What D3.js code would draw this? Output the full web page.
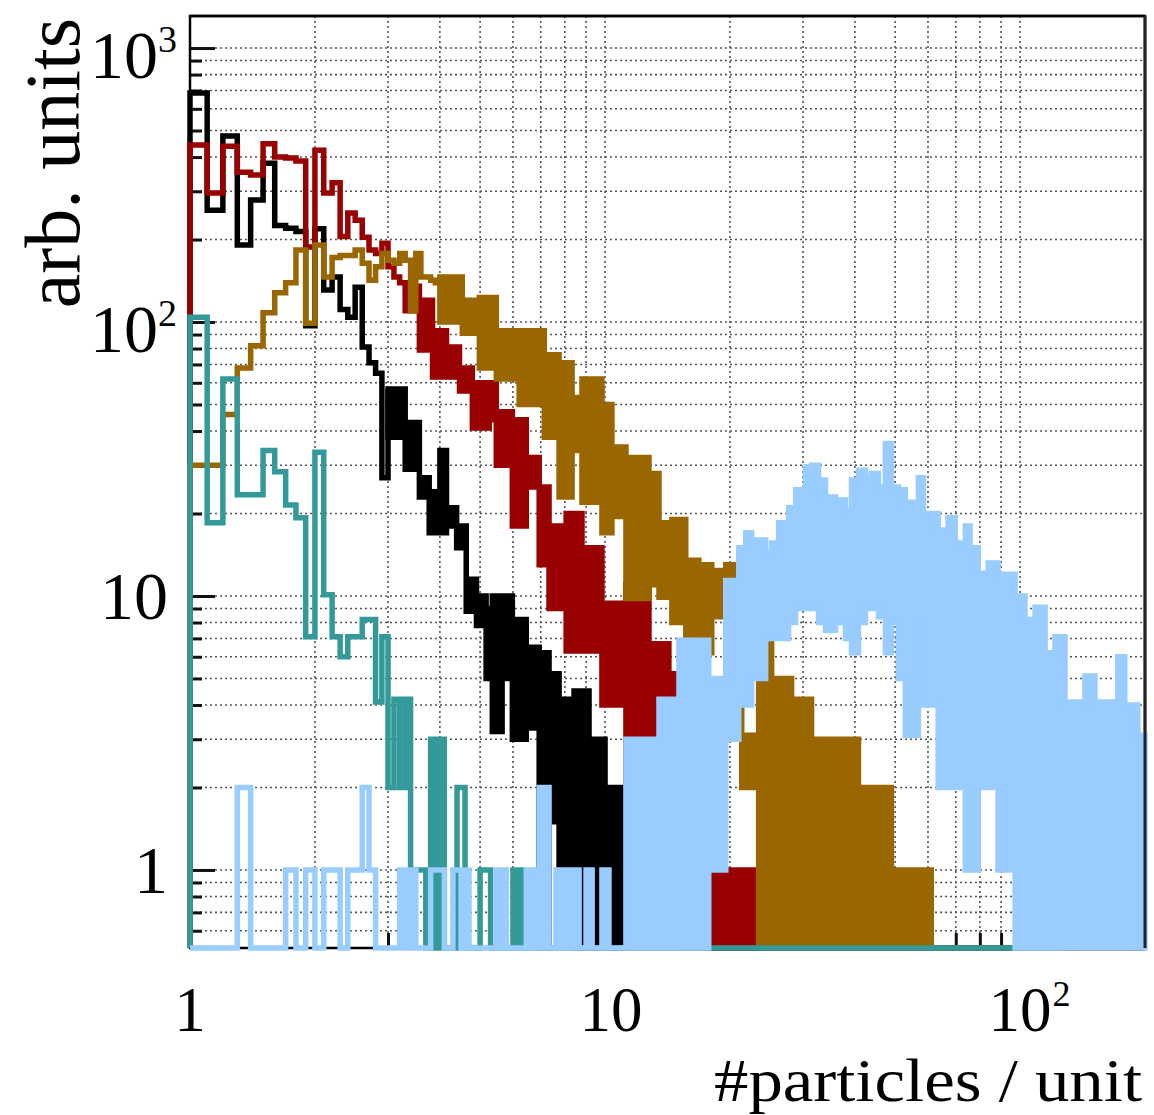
<!DOCTYPE html>
<html><head><meta charset="utf-8">
<script src="https://cdn.jsdelivr.net/npm/d3@7"></script>
<style>body{margin:0;background:#fff}</style>
</head><body>
<svg id="c" width="1154" height="1115"></svg>
<script>
// ---------------- data ----------------
const xMin = 1, xMax = 200;
const yMin = 0.519, yMax = 1309;
const binStart = 1.0, binWidth = 0.1;   // resolvable histogram bins (width 0.1)

// black
const blackBins = [685,256,477,191,279,380,225,220,214,97,219,131,146,111,104,134,81,71,65,27];
const blackBand = [[3.0,57,38],[3.3,43,29],[3.57,27,23],[3.77,24,17],[4.0,34,17],[4.15,21,18],[4.39,18,15],
  [4.63,11.5,8.8],[4.9,10,7.8],[5.17,9,5],[5.35,10,3.2],[5.65,10,5],[5.98,8.2,3],[6.46,6.5,3.3],[6.94,6.2,0],
  [7.33,5.2,1.5],[7.75,4.2,1],[8.42,4.5,0],[9.15,3,0],[10,2,0],[11.42,0,0]];
const blackEnd = 200;

// dark red
const redBins = [443,296,438,352,344,447,400,397,387,188,424,296,322,205,250,235,204,183,178,194,159,146,139];
const redBand = [[3.3,135,110],[3.57,120,79],[3.84,93,63],[4.15,81,63],[4.46,68,56],[4.79,60,41],[5.26,60,44],
  [5.47,47,30],[5.98,44,18],[6.46,32,25],[6.94,25,13],[7.33,18,9],[8.06,20,6.3],[8.8,15,6.3],[9.83,9.4,4],
  [11.23,11,2],[12.76,6.7,2],[14.25,5.2,1],[15.65,2,0],[17.1,0,0],[17.98,1,0],[25.2,0,0],[26.5,1,0],[26.8,0,0],
  [29.5,1,0],[29.8,0,0]];
const redEnd = 200;

// brown
const brownBins = [30,30,46,68,82,108,128,139,183,99,191,146,172,175,175,183,164,142,159,178,168,164,178,168,110,178,146,146,142,139];
const brownBand = [[4.0,146,100],[4.53,120,91],[4.98,123,68],[5.47,93,62],[6.21,93,50],[7.14,76,38],[7.75,71,23],
  [8.33,53,34],[8.8,62,22],[9.83,50,17],[10.39,35,19.5],[11.23,32,9.8],[12.76,28,11],[13.49,18.5,9.9],[14.49,19,8],
  [15.65,13.5,7],[16.83,13,6.2],[18.08,12.4,8.4],[19.54,13,3.2],[21.35,3.1,2],[23.45,7,0],[25.2,5,0],[28.15,4.2,0],
  [31.45,3,0],[40.8,2,0],[49,1,0],[61.1,0,0]];
const brownEnd = 200;

// teal
const tealBins = [104,18.5,62,23.4,23.4,34,28.4,21.5,19.3,7.1,33.5,10.1,7.1,6,7.1,7.1,8.2,8.2,4.1,7.1,
  2,4.2,2,4.2,1,1,1,0,3,0,3,0,0,0,2,2,0,0,0,0,1,1,1,0,0,0,0,0,0,0,1,0,1];
const tealBand = [[6.3,0,0]];
const tealEnd = 125;

// light blue
const lightBins = [0,0,0,2,0,0,0,1,0,1,0,1,1,0,1,1,2,1,0,0,0,0,1,0,1,0,0,0,1,1,1,0,0,1,1,0,1,0,0,0];
const lightBand = [[5.0,0,0],[5.47,1,0],[5.78,0,0],[6.46,1,0],[6.94,2,0],[7.33,0,0],[7.62,1,0],[8.66,0,0],[9.0,1,0],
  [9.31,0,0],[9.83,1,0],[10.22,0,0],[11.23,3,0],[13.49,4.2,0],[15.07,6.9,0],[17.78,5,1],[19.54,11.4,3],[21.0,15,4],
  [21.83,17,4],[22.56,16,5],[24.38,14.4,7],[25.2,15.6,7],[26.2,18.5,7],[27.69,21,8],[28.79,24.4,9],[30.42,29.5,9],
  [31.45,30,9],[32.69,26.5,8],[33.98,23,7.5],[35.93,22.4,8],[37.96,20.6,7],[39.25,26.5,6.2],[40.8,28.8,8],
  [42.41,27,9],[43.84,28,9],[45.58,25,8.4],[47.37,36,6.2],[48.98,25,8],[50.9,24.4,5],[52.9,22,3.1],[56.9,27,8.2],
  [58.5,20,4],[63.5,17.4,2],[67.1,19.3,2],[69.8,15.6,2],[73.8,18,1],[75.8,15,1],[79.3,12.1,2],[83.8,13.2,2],
  [88.5,12,1],[97.3,10,0],[102.8,8.2,0],[108.7,9.1,0],[114.9,6.2,0],[121.4,7.1,0],[128.3,4.1,0],[143.3,5.1,0],
  [151.5,4.1,0],[172,6,0],[178.8,4,0],[192.2,3.1,0]];
const lightEnd = 200;

// axis labels
const yLabelValues = [1, 10, 100, 1000];
const yLabelBase = ['1', '10', '10', '10'];
const yLabelExp = ['', '', '2', '3'];
const xLabelValues = [1, 10, 100];
const xLabelBase = ['1', '10', '10'];
const xLabelExp = ['', '', '2'];
const yMajor = [1, 10, 100, 1000];
const xMajor = [1, 10, 100];
const xTitle = '#particles / unit';
const yTitle = 'arb. units';

// ---------------- drawing ----------------
const plot = {left:190, right:1145, top:16, bottom:948};
const svg = d3.select('#c');
const FONT = "'Liberation Serif','Times New Roman',serif";
const x = d3.scaleLog().domain([xMin, xMax]).range([plot.left, plot.right]);
const y = d3.scaleLog().domain([yMin, yMax]).range([plot.bottom, plot.top]).clamp(true);
const yv = v => v > 0 ? y(v) : plot.bottom;

// grid
const grid = svg.append('g').attr('stroke', '#555').attr('stroke-width', 1.6).attr('stroke-dasharray', '2,3');
grid.selectAll('line.h').data(y.ticks()).join('line').attr('class','h')
  .attr('x1', plot.left).attr('x2', plot.right).attr('y1', d => y(d)).attr('y2', d => y(d));
grid.selectAll('line.v').data(x.ticks().filter(d => d > xMin && d < xMax)).join('line').attr('class','v')
  .attr('y1', plot.top).attr('y2', plot.bottom).attr('x1', d => x(d)).attr('x2', d => x(d));

// ticks
function styleAxis(g){ g.select('.domain').remove(); g.selectAll('line').attr('stroke','#111').attr('stroke-width',3); g.selectAll('text').remove(); }
const yMinor = y.ticks().filter(d => !yMajor.includes(d));
svg.append('g').attr('transform', `translate(${plot.left},0)`).call(d3.axisRight(y).tickValues(yMinor).tickSize(12)).call(styleAxis);
svg.append('g').attr('transform', `translate(${plot.left},0)`).call(d3.axisRight(y).tickValues(yMajor).tickSize(25)).call(styleAxis);
const xMinor = x.ticks().filter(d => !xMajor.includes(d) && d < xMax);
svg.append('g').attr('transform', `translate(0,${plot.bottom})`).call(d3.axisTop(x).tickValues(xMinor).tickSize(15)).call(styleAxis);
svg.append('g').attr('transform', `translate(0,${plot.bottom})`).call(d3.axisTop(x).tickValues(xMajor).tickSize(30)).call(styleAxis);

// frame
svg.append('rect').attr('x', plot.left).attr('y', plot.top).attr('width', plot.right - plot.left)
  .attr('height', plot.bottom - plot.top).attr('fill', 'none').attr('stroke', '#000').attr('stroke-width', 2.5);

// histograms
const SW = 5.5;
const line = d3.line().x(d => x(d[0])).y(d => yv(d[1])).curve(d3.curveStepAfter);
const area = d3.area().x(d => x(d[0])).y0(d => yv(d[2])).y1(d => yv(d[1])).curve(d3.curveStepAfter);
function drawSeries(bins, band, end, color){
  const g = svg.append('g');
  const pts = [[binStart, 0]];
  bins.forEach((v, i) => pts.push([binStart + i * binWidth, v]));
  pts.push([band[0][0], band[0][1]]);
  g.append('path').attr('d', line(pts)).attr('fill', 'none').attr('stroke', color)
    .attr('stroke-width', SW).attr('stroke-linejoin', 'miter');
  const last = band[band.length - 1];
  const bpts = band.concat([[end, last[1], last[2]]]);
  g.append('path').attr('d', area(bpts)).attr('fill', color).attr('stroke', color)
    .attr('stroke-width', SW).attr('stroke-linejoin', 'miter');
}
drawSeries(blackBins, blackBand, blackEnd, '#000000');
drawSeries(redBins, redBand, redEnd, '#990000');
drawSeries(brownBins, brownBand, brownEnd, '#996600');
drawSeries(tealBins, tealBand, tealEnd, '#339999');
drawSeries(lightBins, lightBand, lightEnd, '#99ccff');

// top/right border on top
svg.append('line').attr('x1', plot.left).attr('x2', plot.right).attr('y1', plot.top).attr('y2', plot.top).attr('stroke','#000').attr('stroke-width',2.5);
svg.append('line').attr('x1', plot.right).attr('x2', plot.right).attr('y1', plot.top).attr('y2', plot.bottom).attr('stroke','#222').attr('stroke-width',3);

// y labels
const LBL = 68, EXP = 38;
yLabelValues.forEach((v, i) => {
  const hasExp = yLabelExp[i] !== '';
  const t = svg.append('text').attr('font-family', FONT).attr('font-size', LBL)
    .attr('text-anchor', 'end').attr('x', hasExp ? 177 : 168).attr('y', y(v) + (hasExp ? 30 : 23));
  t.append('tspan').text(yLabelBase[i]);
  if (hasExp) t.append('tspan').attr('font-size', EXP).attr('dy', -26).text(yLabelExp[i]);
});
// x labels
const XLY = 1031;
xLabelValues.forEach((v, i) => {
  const t = svg.append('text').attr('font-family', FONT).attr('font-size', 63)
    .attr('text-anchor', 'middle').attr('x', x(v) + (i === 1 ? 6 : 0)).attr('y', XLY).text(xLabelBase[i]);
  if (xLabelExp[i]) {
    const w = t.node().getComputedTextLength();
    svg.append('text').attr('font-family', FONT).attr('font-size', 36)
      .attr('x', x(v) + w / 2 + 1).attr('y', XLY - 25).text(xLabelExp[i]);
  }
});
// titles
svg.append('text').attr('font-family', FONT).attr('font-size', 62).attr('text-anchor', 'end')
  .attr('textLength', 428).attr('lengthAdjust', 'spacingAndGlyphs')
  .attr('x', 1142).attr('y', 1101).text(xTitle);
svg.append('text').attr('font-family', FONT).attr('font-size', 78).attr('text-anchor', 'end')
  .attr('transform', 'translate(79,18) rotate(-90)').text(yTitle);
</script>
</body></html>
